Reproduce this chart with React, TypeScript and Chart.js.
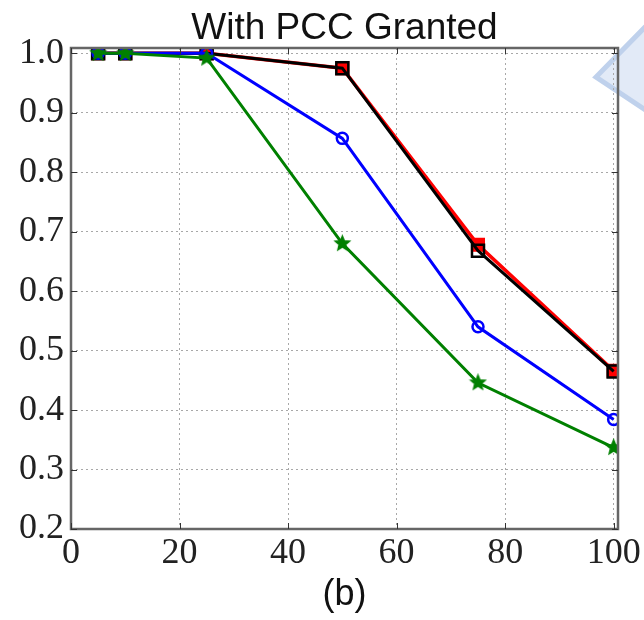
import React, { useEffect, useRef } from 'react';
import { Chart, registerables } from 'chart.js';

Chart.register(...registerables);

const xValues = [5, 10, 25, 50, 75, 100];
const redSeries = [1.0, 1.0, 1.0, 0.975, 0.678, 0.466];
const blackSeries = [1.0, 1.0, 1.0, 0.975, 0.668, 0.465];
const blueSeries = [1.0, 1.0, 1.0, 0.857, 0.54, 0.384];
const greenSeries = [1.0, 1.0, 0.992, 0.68, 0.446, 0.337];
const xTicks = [0, 20, 40, 60, 80, 100];
const yTicks = [0.2, 0.3, 0.4, 0.5, 0.6, 0.7, 0.8, 0.9, 1.0];
const titleText = 'With PCC Granted';
const xAxisLabel = '(b)';

function makeStar(color: string, r: number): HTMLCanvasElement {
  const c = document.createElement('canvas');
  const s = Math.ceil(r * 2 + 4);
  c.width = s;
  c.height = s;
  const ctx = c.getContext('2d')!;
  ctx.beginPath();
  for (let i = 0; i < 10; i++) {
    const rad = i % 2 === 0 ? r : r * 0.45;
    const a = -Math.PI / 2 + (i * Math.PI) / 5;
    ctx.lineTo(s / 2 + rad * Math.cos(a), s / 2 + rad * Math.sin(a));
  }
  ctx.closePath();
  ctx.fillStyle = color;
  ctx.fill();
  ctx.strokeStyle = color;
  ctx.lineWidth = 1.5;
  ctx.stroke();
  return c;
}

const decorPlugin = {
  id: 'decor',
  beforeDraw(chart: any) {
    const ctx = chart.ctx;
    ctx.save();
    ctx.fillStyle = '#ffffff';
    ctx.fillRect(0, 0, chart.width, chart.height);
    ctx.beginPath();
    ctx.moveTo(650, 22);
    ctx.lineTo(596, 77);
    ctx.lineTo(650, 113);
    ctx.closePath();
    ctx.fillStyle = '#e2eaf7';
    ctx.fill();
    ctx.strokeStyle = '#bfd1ec';
    ctx.lineWidth = 5;
    ctx.lineJoin = 'miter';
    ctx.stroke();
    ctx.restore();
  },
  afterDraw(chart: any) {
    const ctx = chart.ctx;
    const a = chart.chartArea;
    const xs = chart.scales.x;
    const ys = chart.scales.y;
    ctx.save();
    ctx.strokeStyle = '#666';
    ctx.lineWidth = 2.5;
    ctx.strokeRect(a.left, a.top, a.right - a.left, a.bottom - a.top);
    ctx.strokeStyle = '#333';
    ctx.lineWidth = 1;
    ctx.beginPath();
    for (const t of yTicks) {
      const y = Math.round(ys.getPixelForValue(t)) + 0.5;
      ctx.moveTo(a.left, y); ctx.lineTo(a.left + 6, y);
      ctx.moveTo(a.right, y); ctx.lineTo(a.right - 6, y);
    }
    for (const t of xTicks) {
      const x = Math.round(xs.getPixelForValue(t)) + 0.5;
      ctx.moveTo(x, a.bottom); ctx.lineTo(x, a.bottom - 6);
      ctx.moveTo(x, a.top); ctx.lineTo(x, a.top + 6);
    }
    ctx.stroke();
    ctx.restore();
  },
};

export default function App() {
  const ref = useRef<HTMLCanvasElement>(null);
  useEffect(() => {
    if (!ref.current) return;
    const star = makeStar('#008000', 7.5);
    const mk = (arr: number[]) => xValues.map((x, i) => ({ x, y: arr[i] }));
    const chart = new Chart(ref.current, {
      type: 'line',
      data: {
        datasets: [
          {
            label: 'red',
            data: mk(redSeries),
            borderColor: '#ff0000',
            backgroundColor: '#ff0000',
            borderWidth: 3.5,
            pointStyle: 'rect',
            pointRadius: 8.5,
            pointBorderWidth: 2,
            pointBorderColor: '#ff0000',
            pointBackgroundColor: '#ff0000',
            order: 4,
          },
          {
            label: 'black',
            data: mk(blackSeries),
            borderColor: '#000000',
            backgroundColor: 'rgba(0,0,0,0)',
            borderWidth: 3,
            pointStyle: 'rect',
            pointRadius: 8.5,
            pointBorderWidth: 2.5,
            pointBorderColor: '#000000',
            pointBackgroundColor: 'rgba(0,0,0,0)',
            order: 3,
          },
          {
            label: 'blue',
            data: mk(blueSeries),
            borderColor: '#0000ff',
            backgroundColor: 'rgba(0,0,0,0)',
            borderWidth: 3,
            pointStyle: 'circle',
            pointRadius: 5.5,
            pointBorderWidth: 2.5,
            pointBorderColor: '#0000ff',
            pointBackgroundColor: 'rgba(0,0,0,0)',
            order: 2,
          },
          {
            label: 'green',
            data: mk(greenSeries),
            borderColor: '#008000',
            backgroundColor: '#008000',
            borderWidth: 3,
            pointStyle: star as any,
            order: 1,
          },
        ],
      },
      options: {
        responsive: false,
        animation: false,
        events: [],
        layout: { padding: { left: 0, right: 26, top: 0, bottom: 0 } },
        plugins: {
          legend: { display: false },
          tooltip: { enabled: false },
          title: {
            display: true,
            text: titleText,
            fullSize: false,
            color: '#111',
            font: { family: 'Liberation Sans', size: 37, weight: 'normal', lineHeight: 1.0 },
            padding: { top: 10, bottom: 1 },
          },
        },
        scales: {
          x: {
            type: 'linear',
            min: 0,
            max: 100.8,
            afterBuildTicks: (s: any) => {
              s.ticks = xTicks.map((v) => ({ value: v }));
            },
            afterFit: (s: any) => {
              s.height = 91;
            },
            ticks: {
              color: '#222',
              font: { family: 'Liberation Serif', size: 36 },
              padding: 3,
              maxRotation: 0,
              autoSkip: false,
              callback: (v: any) => String(v),
            },
            grid: { color: '#a8a8a8', lineWidth: 1, drawTicks: false, tickLength: 0 },
            border: { display: false, dash: [2, 3] },
            title: {
              display: true,
              text: xAxisLabel,
              color: '#111',
              font: { family: 'Liberation Sans', size: 36 },
              padding: { top: 0, bottom: 3 },
            },
          },
          y: {
            type: 'linear',
            min: 0.2,
            max: 1.009,
            afterBuildTicks: (s: any) => {
              s.ticks = yTicks.map((v) => ({ value: v }));
            },
            afterFit: (s: any) => {
              s.width = 71;
            },
            ticks: {
              color: '#222',
              font: { family: 'Liberation Serif', size: 36 },
              padding: 7,
              autoSkip: false,
              callback: (v: any) => Number(v).toFixed(1),
            },
            grid: { color: '#a8a8a8', lineWidth: 1, drawTicks: false, tickLength: 0 },
            border: { display: false, dash: [2, 3] },
          },
        },
      },
      plugins: [decorPlugin],
    });
    return () => chart.destroy();
  }, []);
  return (
    <div style={{ position: 'fixed', left: 0, top: 0, width: 644, height: 620, background: '#fff' }}>
      <canvas ref={ref} width={644} height={620} style={{ display: 'block' }} />
    </div>
  );
}
